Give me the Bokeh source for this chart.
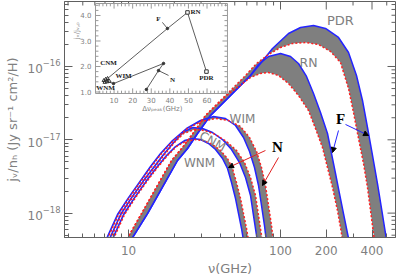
from bokeh.plotting import figure
from bokeh.models import (FixedTicker, Range1d, LinearScale, Arrow, NormalHead, PrintfTickFormatter)
from bokeh.core.properties import value
from bokeh.embed import file_html
from bokeh.resources import INLINE

# ---------------- main panel: nu (GHz) vs j_nu/n_H (Jy sr^-1 cm^2/H)
pdr_blue_nu = [10.15, 13.34, 16.24, 21.01, 24.44, 28.45, 34.63, 46.90, 63.47, 73.86, 88.60, 112.9,
               135.4, 164.9, 197.8, 240.8, 280.2, 316.2, 346.3, 373.6, 403.0, 434.6, 461.8, 490.8, 500.6]
pdr_blue_j = [3.97e-19, 9.87e-19, 2.03e-18, 5.22e-18, 7.61e-18, 1.219e-17, 2.15e-17, 4.02e-17, 7.54e-17,
              1.099e-16, 1.760e-16, 2.818e-16, 3.404e-16, 3.624e-16, 3.299e-16, 2.487e-16, 1.552e-16,
              7.54e-17, 3.44e-17, 1.472e-17, 6.11e-18, 2.53e-18, 1.16e-18, 5.27e-19, 3.97e-19]
pdr_red_nu = [9.48, 12.18, 14.83, 19.19, 22.66, 28.03, 32.11, 43.46, 58.85, 69.52, 83.38, 100.0, 119.9,
              146.0, 177.8, 213.3, 248.1, 280.2, 302.2, 326.0, 351.7, 373.6, 390.9, 409.1, 415.3]
pdr_red_j = [3.97e-19, 9.87e-19, 2.03e-18, 5.22e-18, 7.85e-18, 1.426e-17, 2.15e-17, 4.02e-17, 7.54e-17,
             1.099e-16, 1.458e-16, 1.816e-16, 2.060e-16, 2.126e-16, 1.995e-16, 1.602e-16, 1.134e-16,
             5.01e-17, 2.36e-17, 1.041e-17, 4.75e-18, 2.23e-18, 1.085e-18, 5.27e-19, 3.97e-19]
rn_blue_nu = [10.15, 13.34, 16.24, 21.01, 24.44, 28.45, 34.63, 46.90, 63.47, 71.66, 83.38, 100.0, 116.4,
              131.3, 148.3, 164.9, 183.3, 203.8, 216.6, 230.1, 244.4, 259.7, 276.0, 284.4]
rn_blue_j = [3.97e-19, 9.87e-19, 2.03e-18, 5.22e-18, 7.61e-18, 1.219e-17, 2.15e-17, 4.02e-17, 7.54e-17,
             1.065e-16, 1.369e-16, 1.504e-16, 1.369e-16, 1.099e-16, 7.31e-17, 4.28e-17, 2.36e-17,
             1.219e-17, 6.50e-18, 3.47e-18, 1.85e-18, 9.87e-19, 5.27e-19, 3.97e-19]
rn_red_nu = [9.48, 12.18, 14.83, 19.19, 22.66, 28.03, 32.11, 44.13, 63.47, 73.86, 83.38, 97.0, 112.9,
             131.3, 152.8, 170.0, 188.9, 203.8, 219.9, 237.1, 252.0, 255.8]
rn_red_j = [3.97e-19, 9.87e-19, 2.03e-18, 5.22e-18, 7.85e-18, 1.426e-17, 2.15e-17, 4.02e-17, 7.08e-17,
            8.03e-17, 8.28e-17, 7.54e-17, 5.86e-17, 4.02e-17, 2.51e-17, 1.426e-17, 7.85e-18, 4.19e-18,
            2.23e-18, 1.085e-18, 5.27e-19, 3.97e-19]
wim_blue_nu = [6.95, 7.27, 8.46, 10.0, 11.99, 13.95, 16.24, 19.48, 24.08, 29.77, 36.24, 43.46, 50.58,
               57.09, 62.54, 67.43, 71.66, 74.99, 78.47, 80.89]
wim_blue_j = [3.97e-19, 4.79e-19, 9.57e-19, 1.63e-18, 2.78e-18, 4.32e-18, 6.50e-18, 9.78e-18, 1.426e-17,
              1.833e-17, 2.08e-17, 1.953e-17, 1.567e-17, 1.075e-17, 6.93e-18, 4.19e-18, 2.38e-18,
              1.27e-18, 6.77e-19, 3.97e-19]
wim_red_nu = [7.06, 7.39, 8.60, 10.15, 12.18, 14.17, 16.49, 19.78, 24.44, 30.22, 37.36, 45.49, 54.57,
              62.54, 69.52, 74.99, 79.67, 83.38, 87.27, 89.94]
wim_red_j = [3.97e-19, 4.79e-19, 9.57e-19, 1.63e-18, 2.78e-18, 4.32e-18, 6.50e-18, 9.78e-18, 1.426e-17,
             1.777e-17, 1.953e-17, 1.833e-17, 1.519e-17, 1.075e-17, 6.93e-18, 4.19e-18, 2.38e-18,
             1.27e-18, 6.77e-19, 3.97e-19]
cnm_blue_nu = [7.27, 7.61, 8.86, 10.46, 12.55, 14.60, 16.99, 19.78, 22.66, 26.37, 30.68, 35.69, 41.53,
               47.60, 53.74, 58.85, 63.47, 66.43, 69.52, 70.58]
cnm_blue_j = [3.97e-19, 4.79e-19, 9.57e-19, 1.63e-18, 2.78e-18, 4.19e-18, 6.30e-18, 9.19e-18, 1.258e-17,
              1.472e-17, 1.426e-17, 1.258e-17, 1.009e-17, 7.37e-18, 4.90e-18, 3.06e-18, 1.74e-18,
              9.27e-19, 4.95e-19, 3.97e-19]
cnm_red_nu = [7.39, 7.73, 8.99, 10.62, 12.74, 14.83, 17.25, 20.07, 23.01, 27.19, 31.62, 37.36, 44.13,
              51.35, 57.97, 63.47, 68.46, 71.66, 74.99, 76.13]
cnm_red_j = [3.97e-19, 4.79e-19, 9.57e-19, 1.63e-18, 2.78e-18, 4.19e-18, 6.30e-18, 9.19e-18, 1.219e-17,
             1.382e-17, 1.339e-17, 1.181e-17, 9.48e-18, 7.15e-18, 4.90e-18, 3.06e-18, 1.74e-18,
             9.27e-19, 4.95e-19, 3.97e-19]
wnm_blue_nu = [7.61, 7.96, 9.27, 10.95, 13.14, 15.29, 17.78, 20.38, 23.36, 26.37, 29.77, 33.60, 37.36,
               41.53, 44.80, 47.60, 50.58, 52.94, 55.39, 57.09, 57.53]
wnm_blue_j = [3.97e-19, 4.79e-19, 9.57e-19, 1.63e-18, 2.78e-18, 4.19e-18, 6.11e-18, 8.10e-18, 9.78e-18,
              1.041e-17, 1.009e-17, 8.90e-18, 7.37e-18, 5.56e-18, 4.06e-18, 2.61e-18, 1.58e-18,
              9.87e-19, 6.17e-19, 4.23e-19, 3.97e-19]
wnm_red_nu = [7.73, 8.09, 9.41, 11.12, 13.34, 15.52, 18.06, 20.70, 23.71, 27.19, 31.15, 35.69, 40.29,
              44.80, 48.33, 51.35, 54.57, 57.09, 59.75, 61.59, 62.07]
wnm_red_j = [3.97e-19, 4.79e-19, 9.57e-19, 1.63e-18, 2.78e-18, 4.19e-18, 6.11e-18, 8.10e-18, 9.48e-18,
             1.009e-17, 9.78e-18, 8.63e-18, 7.15e-18, 5.56e-18, 4.06e-18, 2.61e-18, 1.58e-18,
             9.87e-19, 6.17e-19, 4.23e-19, 3.97e-19]

x_lim = (3.79, 571.0)
y_lim = (4.65e-19, 7.70e-16)
x_ticks = [10, 100, 200, 400]
x_minor = [4, 5, 6, 7, 8, 9, 20, 30, 40, 50, 60, 70, 80, 90, 300, 500]
y_ticks = [1e-18, 1e-17, 1e-16]
y_minor = [5e-19, 6e-19, 7e-19, 8e-19, 9e-19,
           2e-18, 3e-18, 4e-18, 5e-18, 6e-18, 7e-18, 8e-18, 9e-18,
           2e-17, 3e-17, 4e-17, 5e-17, 6e-17, 7e-17, 8e-17, 9e-17,
           2e-16, 3e-16, 4e-16, 5e-16, 6e-16, 7e-16]

curve_names = ["PDR", "RN", "WIM", "CNM", "WNM"]
curve_label_nu = [248.0, 152.8, 56.2, 35.7, 29.3]
curve_label_j = [4.24e-16, 1.13e-16, 1.95e-17, 9.5e-18, 4.9e-18]
curve_label_angle = [0.0, 0.0, 0.0, -0.5, 0.0]
curve_label_size = ["13px", "12.5px", "12px", "12px", "12px"]

n_label = (95.6, 8.1e-18)
n_arrow_nu0 = [79.6, 97.0]
n_arrow_j0 = [7.15e-18, 5.73e-18]
n_arrow_nu1 = [45.5, 76.1]
n_arrow_j1 = [4.19e-18, 2.38e-18]
f_label = (248.1, 1.95e-17)
f_arrow_nu0 = [267.7, 240.8]
f_arrow_j0 = [1.62e-17, 1.34e-17]
f_arrow_nu1 = [379.3, 219.9]
f_arrow_j1 = [1.145e-17, 6.71e-18]

# ---------------- inset: delta nu_peak (GHz) vs j_nu/j_nu,P
f_line_x = [6.5, 38.7, 49.5, 59.7]
f_line_y = [1.53, 3.49, 4.12, 1.80]
n_line_x = [4.8, 9.7, 36.6, 33.9, 27.4]
n_line_y = [1.45, 1.33, 2.12, 1.84, 1.10]
dot_x = [38.7, 9.7, 36.6, 33.9, 27.4]
dot_y = [3.49, 1.33, 2.12, 1.84, 1.10]
sq_x = [49.5, 59.7]
sq_y = [4.12, 1.80]
clu_x = [4.5, 5.5, 6.5, 7.5, 5.0, 6.2]
clu_y = [1.45, 1.50, 1.53, 1.42, 1.38, 1.40]
in_names = ["F", "RN", "PDR", "CNM", "WIM", "WNM", "N"]
in_name_x = [33.9, 51.1, 59.7, 7.0, 15.1, 5.4, 41.4]
in_name_y = [3.88, 4.12, 1.53, 2.12, 1.61, 1.14, 1.49]
in_name_align = ["center", "left", "center", "center", "center", "center", "center"]
ptr_x0 = [36.0, 39.3]
ptr_y0 = [3.73, 1.65]
ptr_x1 = [38.7, 33.9]
ptr_y1 = [3.49, 1.84]
in_xticks = [10, 20, 30, 40, 50, 60]
in_xminor = [2, 4, 6, 8, 12, 14, 16, 18, 22, 24, 26, 28, 32, 34, 36, 38, 42, 44, 46, 48, 52, 54, 56, 58,
             62, 64, 66, 68, 70]
in_yticks = [1.0, 2.0, 3.0, 4.0]
in_yminor = [1.2, 1.4, 1.6, 1.8, 2.2, 2.4, 2.6, 2.8, 3.2, 3.4, 3.6, 3.8, 4.2, 4.4]
in_xlim = (0.0, 71.0)
in_ylim = (0.941, 4.47)

GRAY = "#808080"
AX = "#606060"
FONT = "DejaVu Sans"

p = figure(width=399, height=278, x_axis_type="log", y_axis_type="log",
           x_range=Range1d(*x_lim), y_range=Range1d(*y_lim),
           output_backend="svg", toolbar_location=None,
           min_border_left=64, min_border_right=4, min_border_top=1, min_border_bottom=41)
p.xgrid.visible = False
p.ygrid.visible = False
p.outline_line_color = AX


def style_axis(ax):
    ax.axis_line_color = AX
    ax.major_tick_line_color = AX
    ax.minor_tick_line_color = AX
    ax.major_tick_in = 8
    ax.major_tick_out = 0
    ax.minor_tick_in = 4
    ax.minor_tick_out = 0
    ax.major_label_text_color = GRAY
    ax.major_label_text_font = FONT
    ax.major_label_text_font_size = "12px"
    ax.axis_label_text_color = GRAY
    ax.axis_label_text_font = FONT
    ax.axis_label_text_font_size = "13px"
    ax.axis_label_text_font_style = "normal"


xa = p.xaxis[0]
xa.ticker = FixedTicker(ticks=x_ticks, minor_ticks=x_minor)
xa.formatter = PrintfTickFormatter(format="%d")
style_axis(xa)
xa.axis_label = "ν(GHz)"
xa.major_label_standoff = 8
xa.axis_label_standoff = 3
ya = p.yaxis[0]
ya.ticker = FixedTicker(ticks=y_ticks, minor_ticks=y_minor)
style_axis(ya)
ya.axis_label = "jᵥ/nₕ (Jy sr⁻¹ cm²/H)"
ya.major_label_standoff = 4
ya.axis_label_standoff = 5

# mirrored inward ticks on the top and right frame edges
maj_dx, min_dx = 10 ** (8 / 152.0), 10 ** (4 / 152.0)
maj_dy, min_dy = 10 ** (8 / 73.3), 10 ** (4 / 73.3)
tx = x_ticks + x_minor
p.segment(tx, [y_lim[1]] * len(tx), tx,
          [y_lim[1] / maj_dy] * len(x_ticks) + [y_lim[1] / min_dy] * len(x_minor),
          line_color=AX, line_width=1)
ty = y_ticks + y_minor
p.segment([x_lim[1]] * len(ty), ty,
          [x_lim[1] / maj_dx] * len(y_ticks) + [x_lim[1] / min_dx] * len(y_minor), ty,
          line_color=AX, line_width=1)

pairs = [(pdr_blue_nu, pdr_blue_j, pdr_red_nu, pdr_red_j),
         (rn_blue_nu, rn_blue_j, rn_red_nu, rn_red_j),
         (wim_blue_nu, wim_blue_j, wim_red_nu, wim_red_j),
         (cnm_blue_nu, cnm_blue_j, cnm_red_nu, cnm_red_j),
         (wnm_blue_nu, wnm_blue_j, wnm_red_nu, wnm_red_j)]
for bx, by, rx, ry in pairs:
    p.patch(bx + rx[::-1], by + ry[::-1], fill_color="#7f7f7f", line_color=None)
for bx, by, rx, ry in pairs:
    p.line(bx, by, line_color="#2424ff", line_width=1.5)
for bx, by, rx, ry in pairs:
    p.line(rx, ry, line_color="#ff2020", line_width=1.5, line_dash="2 2")

for i, t in enumerate(curve_names):
    p.text([curve_label_nu[i]], [curve_label_j[i]], text=[t], angle=curve_label_angle[i],
           text_align="center", text_baseline="middle", text_color=GRAY,
           text_font=value(FONT), text_font_size=curve_label_size[i])

for i in range(2):
    p.add_layout(Arrow(end=NormalHead(size=5, fill_color="black", line_color="black"),
                       x_start=n_arrow_nu0[i], y_start=n_arrow_j0[i],
                       x_end=n_arrow_nu1[i], y_end=n_arrow_j1[i],
                       line_color="#e02020", line_width=1))
    p.add_layout(Arrow(end=NormalHead(size=5, fill_color="black", line_color="black"),
                       x_start=f_arrow_nu0[i], y_start=f_arrow_j0[i],
                       x_end=f_arrow_nu1[i], y_end=f_arrow_j1[i],
                       line_color="#2424ff", line_width=1))
p.text([n_label[0], f_label[0]], [n_label[1], f_label[1]], text=["N", "F"],
       text_align="center", text_baseline="middle", text_color="black",
       text_font=value("Liberation Serif"), text_font_style="bold", text_font_size="15px")

# ---------------- inset drawn with its own linear scales
p.extra_x_ranges = {"ix": Range1d(-16.67, 161.4)}
p.extra_x_scales = {"ix": LinearScale()}
p.extra_y_ranges = {"iy": Range1d(-4.706, 4.549)}
p.extra_y_scales = {"iy": LinearScale()}
kw = dict(x_range_name="ix", y_range_name="iy")

p.quad(left=[in_xlim[0]], right=[in_xlim[1]], bottom=[in_ylim[0]], top=[in_ylim[1]],
       fill_color="white", line_color="#9a9a9a", line_width=1, **kw)
mt_y, mn_y, mt_x, mn_x = 0.2, 0.11, 2.7, 1.6
sx0 = in_xticks + in_xticks + in_xminor + in_xminor
sy0 = ([in_ylim[0]] * len(in_xticks) + [in_ylim[1]] * len(in_xticks)
       + [in_ylim[0]] * len(in_xminor) + [in_ylim[1]] * len(in_xminor))
sy1 = ([in_ylim[0] + mt_y] * len(in_xticks) + [in_ylim[1] - mt_y] * len(in_xticks)
       + [in_ylim[0] + mn_y] * len(in_xminor) + [in_ylim[1] - mn_y] * len(in_xminor))
p.segment(sx0, sy0, sx0, sy1, line_color="#9a9a9a", line_width=1, **kw)
ty0 = in_yticks + in_yticks + in_yminor + in_yminor
tx0 = ([in_xlim[0]] * len(in_yticks) + [in_xlim[1]] * len(in_yticks)
       + [in_xlim[0]] * len(in_yminor) + [in_xlim[1]] * len(in_yminor))
tx1 = ([in_xlim[0] + mt_x] * len(in_yticks) + [in_xlim[1] - mt_x] * len(in_yticks)
       + [in_xlim[0] + mn_x] * len(in_yminor) + [in_xlim[1] - mn_x] * len(in_yminor))
p.segment(tx0, ty0, tx1, ty0, line_color="#9a9a9a", line_width=1, **kw)

p.text(in_xticks, [in_ylim[0] - 0.27] * len(in_xticks), text=[str(v) for v in in_xticks],
       text_align="center", text_baseline="middle", text_color=GRAY,
       text_font=value(FONT), text_font_size="7px", **kw)
p.text([in_xlim[0] - 2.2] * len(in_yticks), in_yticks, text=["%.1f" % v for v in in_yticks],
       text_align="right", text_baseline="middle", text_color=GRAY,
       text_font=value(FONT), text_font_size="7px", **kw)
p.text([36.0], [0.33], text=["Δνₚₑₐₖ(GHz)"], text_align="center", text_baseline="middle",
       text_color=GRAY, text_font=value(FONT), text_font_size="7px", **kw)
p.text([-9.7], [3.41], text=["jᵥ/jᵥ,ₚ"], angle=1.5708, text_align="center", text_baseline="middle",
       text_color=GRAY, text_font=value(FONT), text_font_size="7px", **kw)

p.line(f_line_x, f_line_y, line_color="#333333", line_width=0.8, **kw)
p.line(n_line_x, n_line_y, line_color="#333333", line_width=0.8, **kw)
p.segment(ptr_x0, ptr_y0, ptr_x1, ptr_y1, line_color="#333333", line_width=0.8, **kw)
p.scatter(dot_x, dot_y, size=2.5, color="#333333", **kw)
p.scatter(sq_x, sq_y, marker="square", size=3.5, fill_color="white", line_color="#333333", **kw)
p.scatter(clu_x, clu_y, marker="triangle", size=3.5, fill_color=None, line_color="#333333", **kw)
for i, t in enumerate(in_names):
    p.text([in_name_x[i]], [in_name_y[i]], text=[t], text_align=in_name_align[i],
           text_baseline="middle", text_color="#222222", text_font=value("Liberation Serif"),
           text_font_style="bold", text_font_size="7px", **kw)

open("out.html", "w").write(file_html(p, INLINE))
